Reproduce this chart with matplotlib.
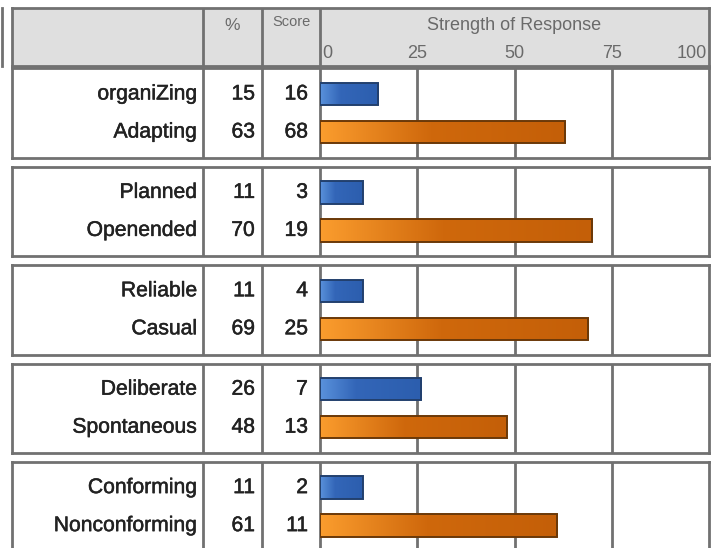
import matplotlib
matplotlib.use('Agg')
import matplotlib.pyplot as plt
import numpy as np
from matplotlib.colors import LinearSegmentedColormap
from matplotlib.lines import Line2D
import matplotlib.patheffects as pe

plt.rcParams['font.family'] = ['Liberation Sans', 'DejaVu Sans']

# ---------------- data ----------------
labels_top = ['organiZing', 'Planned', 'Reliable', 'Deliberate', 'Conforming']
labels_bottom = ['Adapting', 'Openended', 'Casual', 'Spontaneous', 'Nonconforming']
pct_top = [15, 11, 11, 26, 11]
pct_bottom = [63, 70, 69, 48, 61]
score_top = [16, 3, 4, 7, 2]
score_bottom = [68, 19, 25, 13, 11]
col_headers = ['%', 'Score']
axis_title = 'Strength of Response'
ticks = [0, 25, 50, 75, 100]

# ---------------- layout helpers ----------------
W, H = 720, 548
fig = plt.figure(figsize=(7.2, 5.48), dpi=100)
fig.patch.set_facecolor('white')


def rect(x, y, w, h):
    return [x / W, 1 - (y + h) / H, w / W, h / H]


LINE = '#717171'
LW = 2.0
X0, X1 = 12, 709
XC1, XC2, XC3 = 203, 262, 320
TXT = '#222222'
HTXT = '#6a6a6a'
BODY_FS = 15.2
thick = [pe.withStroke(linewidth=0.35, foreground=TXT)]

blue_cmap = LinearSegmentedColormap.from_list(
    'b', [(0, '#5a92dc'), (0.35, '#3366b8'), (1, '#2c5eae')])
orange_cmap = LinearSegmentedColormap.from_list(
    'o', [(0, '#fb9d2e'), (0.45, '#cf680c'), (1, '#c45f08')])


def style_box(ax):
    ax.set_xticks([])
    ax.set_yticks([])
    for s in ax.spines.values():
        s.set_color(LINE)
        s.set_linewidth(LW)


# ---------------- header ----------------
hh_top, hh = 8, 58
axh = fig.add_axes(rect(X0, hh_top, X1 - X0, hh))
axh.set_xlim(X0, X1)
axh.set_ylim(hh, 0)
axh.set_facecolor('#dfdfdf')
style_box(axh)
for xc in (XC1, XC2, XC3):
    axh.axvline(xc, color=LINE, lw=LW)
axh.text((XC1 + XC2) / 2, 17, col_headers[0], ha='center', va='center',
         color=HTXT, fontsize=12.5)
axh.text((XC2 + XC3) / 2, 14, col_headers[1], ha='center', va='center',
         color=HTXT, fontsize=10.5)

axhb = fig.add_axes(rect(XC3, hh_top, X1 - XC3, hh))
axhb.set_xlim(ticks[0], ticks[-1])
axhb.set_ylim(hh, 0)
axhb.axis('off')
axhb.text(np.mean([ticks[0], ticks[-1]]), 17, axis_title, ha='center',
          va='center', color=HTXT, fontsize=13)
for i, t in enumerate(ticks):
    if i == 0:
        ha, xo = 'left', 0.6
    elif i == len(ticks) - 1:
        ha, xo = 'right', -0.6
    else:
        ha, xo = 'center', 0
    axhb.text(t + xo, 45.5, str(t), ha=ha, va='center', color=HTXT,
              fontsize=13)

fig.add_artist(Line2D([2 / W, 2 / W], [1 - 8 / H, 1 - 66 / H],
                      color=LINE, lw=LW))

# ---------------- groups ----------------
g_top0, g_pitch, g_h = 68.5, 98.4, 89.5
row_y = [25.5, 63.5]
bar_h = 22.5

for g in range(len(labels_top)):
    top = g_top0 + g * g_pitch
    axg = fig.add_axes(rect(X0, top, X1 - X0, g_h))
    axg.set_xlim(X0, X1)
    axg.set_ylim(g_h, 0)
    style_box(axg)
    for xc in (XC1, XC2, XC3):
        axg.axvline(xc, color=LINE, lw=LW)

    names = [labels_top[g], labels_bottom[g]]
    pcts = [pct_top[g], pct_bottom[g]]
    scores = [score_top[g], score_bottom[g]]
    for r in range(2):
        axg.text(XC1 - 6, row_y[r], names[r], ha='right', va='center',
                 color=TXT, fontsize=BODY_FS, path_effects=thick)
        axg.text(XC2 - 7, row_y[r], str(pcts[r]), ha='right', va='center',
                 color=TXT, fontsize=BODY_FS, path_effects=thick)
        axg.text(XC3 - 12, row_y[r], str(scores[r]), ha='right',
                 va='center', color=TXT, fontsize=BODY_FS, path_effects=thick)

    axb = fig.add_axes(rect(XC3, top, X1 - XC3, g_h))
    axb.set_xlim(ticks[0], ticks[-1])
    axb.set_ylim(g_h, 0)
    axb.axis('off')
    for t in ticks[1:-1]:
        axb.axvline(t, color=LINE, lw=LW, zorder=1)
    bars = axb.barh(row_y, pcts, height=bar_h, left=0,
                    facecolor='none', zorder=3)
    for patch, cmap, ec in zip(bars.patches, [blue_cmap, orange_cmap],
                               ['#22406e', '#6a3808']):
        patch.set_edgecolor(ec)
        patch.set_linewidth(1.4)
        x0 = patch.get_x()
        x1 = x0 + patch.get_width()
        y0 = patch.get_y()
        y1 = y0 + patch.get_height()
        grad = np.linspace(0, 1, 256).reshape(1, -1)
        im = axb.imshow(grad, extent=[x0, x1, y1, y0], cmap=cmap,
                        aspect='auto', zorder=2, interpolation='bilinear')
        im.set_clip_path(patch)
    axb.set_xlim(ticks[0], ticks[-1])
    axb.set_ylim(g_h, 0)

fig.savefig('out.png', dpi=100, facecolor='white')
